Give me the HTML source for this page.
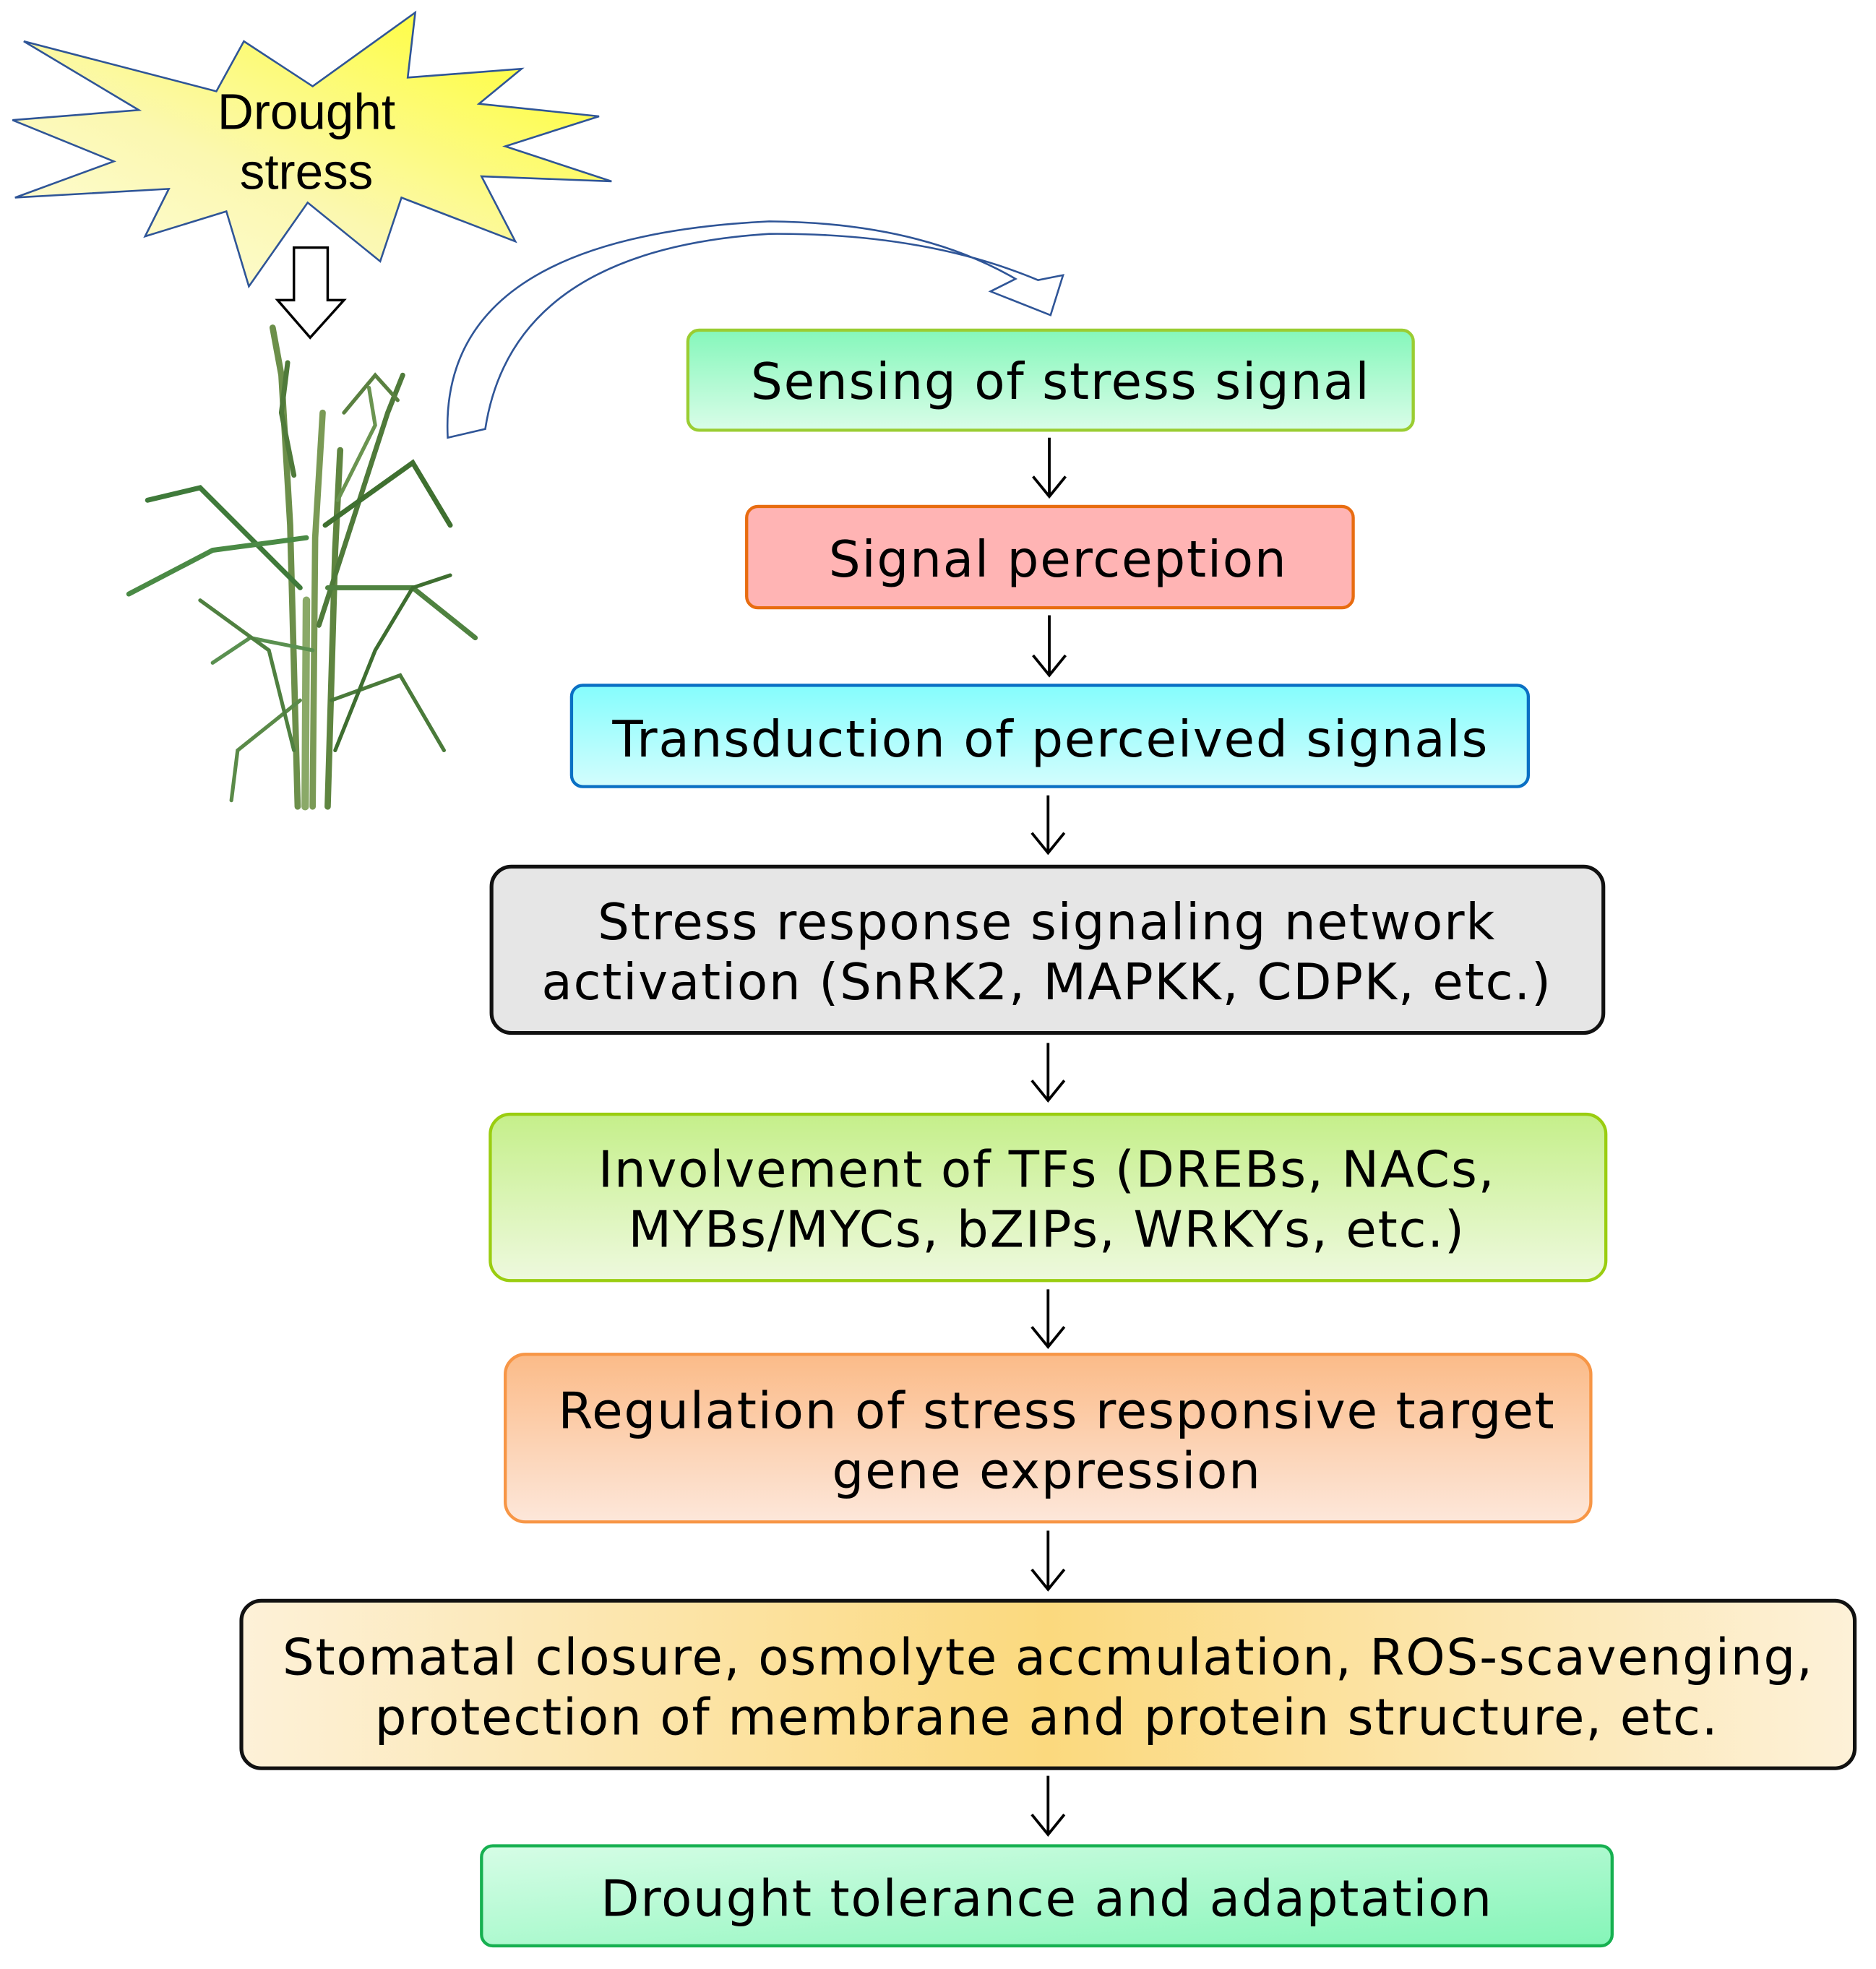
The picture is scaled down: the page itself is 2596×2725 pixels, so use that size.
<!DOCTYPE html>
<html><head><meta charset="utf-8"><style>html,body{margin:0;padding:0;background:#fff}svg{display:block}</style></head>
<body>
<svg width="2596" height="2725" viewBox="0 0 1500 1574.5" xmlns="http://www.w3.org/2000/svg" font-family="'DejaVu Sans','Liberation Sans',sans-serif">
<defs>
<linearGradient id="star" x1="1" y1="0" x2="0" y2="1"><stop offset="0" stop-color="#ffff20"/><stop offset="0.6" stop-color="#fbf8b0"/><stop offset="1" stop-color="#fffde0"/></linearGradient>
<linearGradient id="g1" x1="0" y1="0" x2="0" y2="1"><stop offset="0" stop-color="#85f7bb"/><stop offset="1" stop-color="#d9fde8"/></linearGradient>
<linearGradient id="g3" x1="0" y1="0" x2="0" y2="1"><stop offset="0" stop-color="#85fdfd"/><stop offset="1" stop-color="#d3fdfd"/></linearGradient>
<linearGradient id="g5" x1="0" y1="0" x2="0" y2="1"><stop offset="0" stop-color="#c5ef8a"/><stop offset="1" stop-color="#eef9de"/></linearGradient>
<linearGradient id="g6" x1="0" y1="0" x2="0" y2="1"><stop offset="0" stop-color="#fbbb88"/><stop offset="1" stop-color="#fde7da"/></linearGradient>
<linearGradient id="g7" x1="0" y1="0" x2="1" y2="0"><stop offset="0" stop-color="#fdf1d8"/><stop offset="0.5" stop-color="#fbd97e"/><stop offset="1" stop-color="#fdf1d8"/></linearGradient>
<linearGradient id="g8" x1="0" y1="0" x2="1" y2="1"><stop offset="0" stop-color="#d6fde6"/><stop offset="1" stop-color="#85f5b8"/></linearGradient>
</defs>

<polygon points="195,33 250,69 332,10 326,62 417,55 383,83 479,93 404,117 489,145 385,141 412,193 321,158 304,209 246,162 199,229 181,169 116,189 135,151 12,158 91,129 10,96 111,88 19,33 173,73" fill="url(#star)" stroke="#2f5597" stroke-width="1.5"/>
<text x="245" y="103" font-size="40" text-anchor="middle" font-family="'Liberation Sans',sans-serif">Drought</text>
<text x="245" y="151" font-size="40" text-anchor="middle" font-family="'Liberation Sans',sans-serif">stress</text>

<polygon points="235,198 262,198 262,240 275,240 248,270 222,240 235,240" fill="#fff" stroke="#000" stroke-width="2"/>

<path d="M358,350 Q350,190 615,177 Q735,178 812,223 L792,233 L840,252 L850,220 L830,224 Q740,186 615,187 Q410,200 388,343 Z" fill="#fff" stroke="#2f5597" stroke-width="1.5"/>

<g stroke-linecap="round" fill="none">
<path d="M238,645 L232,420 L225,300 L218,262" stroke="#6c8f4a" stroke-width="5"/>
<path d="M250,645 L252,430 L258,330" stroke="#7a9a55" stroke-width="5"/>
<path d="M262,645 L268,440 L272,360" stroke="#5f8540" stroke-width="5"/>
<path d="M244,645 L245,480" stroke="#8aa968" stroke-width="6"/>
<path d="M255,500 L310,330 L322,300" stroke="#4f7a3a" stroke-width="4"/>
<path d="M240,470 L160,390 L118,400" stroke="#3f7a3a" stroke-width="4"/>
<path d="M245,430 L170,440 L103,475" stroke="#4a8a45" stroke-width="4"/>
<path d="M260,420 L330,370 L360,420" stroke="#3f7030" stroke-width="4"/>
<path d="M262,470 L330,470 L380,510" stroke="#4f8240" stroke-width="4"/>
<path d="M235,380 L225,330 L230,290" stroke="#4f7a3a" stroke-width="4"/>
<path d="M250,520 L200,510 L170,530" stroke="#5a9050" stroke-width="3"/>
<path d="M265,560 L320,540 L355,600" stroke="#4a7a3a" stroke-width="3"/>
<path d="M240,560 L190,600 L185,640" stroke="#5a8a48" stroke-width="3"/>
<path d="M275,330 L300,300 L318,320" stroke="#5a8040" stroke-width="3"/>
<path d="M270,400 L300,340 L295,310" stroke="#6a9450" stroke-width="3"/>
<path d="M268,600 L300,520 L330,470 L360,460" stroke="#3e6e30" stroke-width="3"/>
<path d="M235,600 L215,520 L160,480" stroke="#4f8040" stroke-width="3"/>
</g>

<g stroke-width="2.5">
<rect x="550" y="264" width="580" height="80" rx="9" fill="url(#g1)" stroke="#9acd32"/>
<rect x="597" y="405" width="485" height="81" rx="9" fill="#ffb4b4" stroke="#e86c10"/>
<rect x="457" y="548" width="765" height="81" rx="9" fill="url(#g3)" stroke="#0a70c4"/>
<rect x="393" y="693" width="889" height="133" rx="16" fill="#e6e6e6" stroke="#111" stroke-width="3"/>
<rect x="392" y="891" width="892" height="133" rx="16" fill="url(#g5)" stroke="#9acd10"/>
<rect x="404" y="1083" width="868" height="134" rx="16" fill="url(#g6)" stroke="#f79646"/>
<rect x="193" y="1280" width="1290" height="134" rx="16" fill="url(#g7)" stroke="#111" stroke-width="3"/>
<rect x="385" y="1476" width="904" height="80" rx="9" fill="url(#g8)" stroke="#16b050"/>
</g>

<g font-size="40" text-anchor="middle" fill="#000" letter-spacing="1.0">
<text x="848" y="319">Sensing of stress signal</text>
<text x="846" y="461">Signal perception</text>
<text x="840" y="605">Transduction of perceived signals</text>
<text x="837" y="751">Stress response signaling network</text>
<text x="837" y="799">activation (SnRK2, MAPKK, CDPK, etc.)</text>
<text x="837" y="949">Involvement of TFs (DREBs, NACs,</text>
<text x="837" y="997">MYBs/MYCs, bZIPs, WRKYs, etc.)</text>
<text x="845" y="1142">Regulation of stress responsive target</text>
<text x="837" y="1190">gene expression</text>
<text x="838" y="1339">Stomatal closure, osmolyte accmulation, ROS-scavenging,</text>
<text x="837" y="1387">protection of membrane and protein structure, etc.</text>
<text x="837" y="1532">Drought tolerance and adaptation</text>
</g>

<g stroke="#000" stroke-width="2.2" fill="none">
<path d="M839,350 V397 M826,381 L839,397 L852,381"/>
<path d="M839,492 V540 M826,524 L839,540 L852,524"/>
<path d="M838,636 V682 M825,666 L838,682 L851,666"/>
<path d="M838,834 V880 M825,864 L838,880 L851,864"/>
<path d="M838,1031 V1077 M825,1061 L838,1077 L851,1061"/>
<path d="M838,1224 V1271 M825,1255 L838,1271 L851,1255"/>
<path d="M838,1420 V1467 M825,1451 L838,1467 L851,1451"/>
</g>
</svg>
</body></html>
